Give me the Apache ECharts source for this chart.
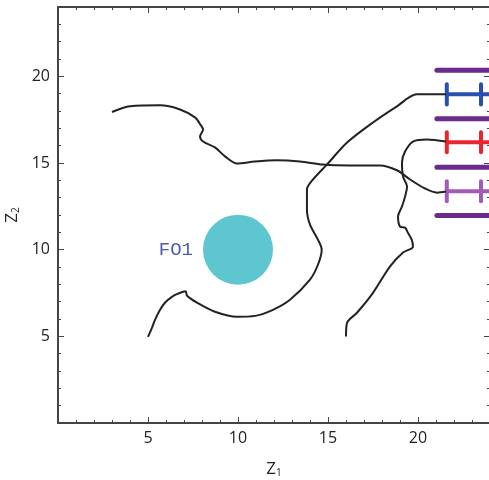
<!DOCTYPE html>
<html><head><meta charset="utf-8">
<script src="https://cdn.jsdelivr.net/npm/echarts@6/dist/echarts.min.js"></script>
<style>html,body{margin:0;padding:0;background:#fff}#c{width:489px;height:480px}</style>
</head><body><div id="c"></div>
<script>
// Axis ticks
const xTicks = [5, 10, 15, 20];
const yTicks = [5, 10, 15, 20];

// Black trajectories [Z1, Z2]
const curveA = [[3.0,17.94],[4.0,18.27],[5.67,18.33],[6.78,18.09],[7.61,17.63],[7.94,17.17],[8.06,16.94],[7.89,16.53],[8.06,16.24],[8.72,15.9],[9.28,15.38],[9.94,14.97],[10.94,15.09],[12.17,15.16],[13.44,15.09],[14.72,14.91],[16.22,14.86],[17.89,14.86],[18.83,14.58],[19.56,14.05],[20.39,13.53],[21.06,13.29],[21.56,13.35]];
const curveB = [[5.0,4.97],[5.22,5.49],[5.39,5.95],[5.67,6.53],[5.94,6.94],[6.33,7.28],[6.67,7.46],[7.09,7.6],[7.17,7.34],[7.72,6.94],[8.72,6.42],[9.94,6.13],[10.94,6.18],[11.94,6.53],[12.89,7.11],[14.0,8.27],[14.44,9.13],[14.65,10.0],[14.44,10.58],[14.0,11.45],[13.83,12.31],[13.83,13.47],[14.17,14.05],[14.94,14.91],[16.06,16.18],[17.5,17.34],[18.83,18.27],[19.94,18.96],[21.56,18.96]];
const curveC = [[16.0,4.99],[16.06,5.78],[16.61,6.36],[17.5,7.51],[18.44,9.02],[19.17,9.83],[19.72,10.17],[19.65,10.58],[19.44,10.98],[19.28,11.27],[19.0,11.33],[18.89,11.91],[19.11,12.49],[19.28,13.06],[19.39,13.64],[19.17,14.22],[19.11,15.03],[19.28,15.66],[19.72,16.24],[20.5,16.36],[21.56,16.24]];

// Fixed object FO1
const fo1 = [[10, 10]];
const fo1Label = 'FO1';

// Purple horizontal bars (Z2 levels), from Z1 start to end
const barLevels = [20.35, 17.55, 14.76, 11.97];
const barX = [21.05, 24];

// H markers: [leftZ1, rightZ1, Z2, halfHeight]
const hMarkers = [[21.6, 23.5, 18.96, 0.58],[21.6, 23.5, 16.2, 0.58],[21.6, 23.5, 13.37, 0.58]];
const hColors = ['#2a4fae', '#e8262d', '#a25cb8'];
const barColor = '#6b2a8c';

const chart = echarts.init(document.getElementById('c'));
const axisCol = '#444';
const series = [];

barLevels.forEach(y => {
  series.push({type:'line', data: barX.map(x => [x, y]), symbol:'none', silent:true,
    lineStyle:{color:barColor, width:5, cap:'round'}});
});

series.push({type:'custom', data: hMarkers, silent:true,
  renderItem: function(params, api){
    const xl = api.value(0), xr = api.value(1), y = api.value(2), h = api.value(3);
    const col = hColors[params.dataIndex];
    const a = api.coord([xl, y]), b = api.coord([xr + 1, y]);
    const lt = api.coord([xl, y + h]), lb = api.coord([xl, y - h]);
    const rt = api.coord([xr, y + h]), rb = api.coord([xr, y - h]);
    const st = {stroke: col, lineWidth: 4, lineCap:'round'};
    return {type:'group', children:[
      {type:'line', shape:{x1:a[0], y1:a[1], x2:b[0], y2:b[1]}, style:st},
      {type:'line', shape:{x1:lt[0], y1:lt[1], x2:lb[0], y2:lb[1]}, style:st},
      {type:'line', shape:{x1:rt[0], y1:rt[1], x2:rb[0], y2:rb[1]}, style:st}
    ]};
  }, clip:true});

[curveA, curveB, curveC].forEach(d => {
  series.push({type:'line', data:d, symbol:'none', smooth:0.3, silent:true,
    lineStyle:{color:'#222', width:2}});
});

series.push({type:'scatter', data: fo1, symbolSize:70, silent:true,
  itemStyle:{color:'#5ec6ce', opacity:1},
  label:{show:true, position:'left', distance:10, formatter: fo1Label,
    color:'#4a5cb4', fontFamily:'Liberation Mono', fontSize:19}});

const tick = () => ({show:true, inside:true, length:6, lineStyle:{color:axisCol, width:1}});
const minor = () => ({show:true, splitNumber:5, length:3, lineStyle:{color:axisCol, width:1}});
const line = () => ({show:true, onZero:false, lineStyle:{color:axisCol, width:2}});
const labelFmt = v => ([5,10,15,20].includes(v) ? String(v) : '');
const nameRich = () => ({rich:{z:{fontSize:17, color:'#222', fontFamily:'Open Sans', lineHeight:22, verticalAlign:'bottom'}, s:{fontSize:10, color:'#222', fontFamily:'Open Sans', lineHeight:14, verticalAlign:'bottom'}}});

chart.setOption({
  animation:false,
  grid:{left:58, top:7, width:432, height:416, outerBoundsMode:'none', containLabel:false},
  xAxis:[{type:'value', min:0, max:24, interval:5, position:'bottom',
      axisLine:line(), axisTick:tick(), minorTick:minor(), splitLine:{show:false},
      axisLabel:{margin:7, color:'#222', fontSize:16, fontFamily:'Open Sans', formatter: labelFmt, showMaxLabel:false},
      name:'{z|Z}{s|1}', nameLocation:'middle', nameGap:33, nameTextStyle:nameRich()},
    {type:'value', min:0, max:24, interval:5, position:'top',
      axisLine:line(), axisTick:tick(), minorTick:minor(), axisLabel:{show:false}, splitLine:{show:false}}],
  yAxis:[{type:'value', min:0, max:24, interval:5, position:'left',
      axisLine:line(), axisTick:tick(), minorTick:minor(), splitLine:{show:false},
      axisLabel:{margin:8, color:'#222', fontSize:16, fontFamily:'Open Sans', formatter: labelFmt, showMaxLabel:false},
      name:'{z|Z}{s|2}', nameLocation:'middle', nameGap:27, nameRotate:90, nameTextStyle:nameRich()},
    {type:'value', min:0, max:24, interval:5, position:'right',
      axisLine:line(), axisTick:tick(), minorTick:minor(), axisLabel:{show:false}, splitLine:{show:false}}],
  series: series
});
</script></body></html>
